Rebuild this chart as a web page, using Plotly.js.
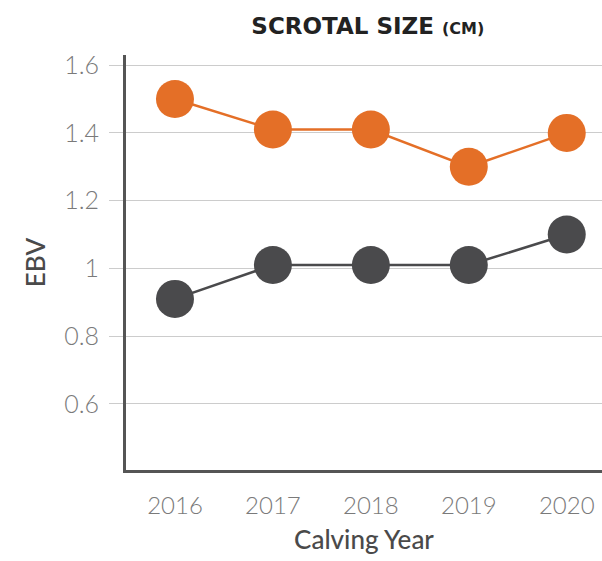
<!DOCTYPE html>
<html>
<head>
<meta charset="utf-8">
<script src="https://cdn.plot.ly/plotly-3.0.1.min.js"></script>
<style>html,body{margin:0;padding:0;background:#fff;}#chart{width:602px;height:561px;}</style>
</head>
<body>
<div id="chart"></div>
<script>
const years = [2016, 2017, 2018, 2019, 2020];
const seriesOrange = [1.50, 1.41, 1.41, 1.30, 1.40];
const seriesGray = [0.91, 1.01, 1.01, 1.01, 1.10];
const yTickVals = [0.6, 0.8, 1, 1.2, 1.4, 1.6];
const yTickText = ['0.6', '0.8', '1', '1.2', '1.4', '1.6'];

const traces = [
  {
    x: years, y: seriesGray, type: 'scatter', mode: 'lines+markers',
    line: {color: '#4a4a4c', width: 2.5},
    marker: {color: '#4a4a4c', size: 38, line: {width: 0}},
    cliponaxis: false, showlegend: false
  },
  {
    x: years, y: seriesOrange, type: 'scatter', mode: 'lines+markers',
    line: {color: '#e46f27', width: 2.5},
    marker: {color: '#e46f27', size: 38, line: {width: 0}},
    cliponaxis: false, showlegend: false
  }
];

const layout = {
  width: 602, height: 561,
  margin: {l: 126, r: 0, t: 55, b: 91, pad: 0},
  paper_bgcolor: '#fff', plot_bgcolor: '#fff',
  title: {
    text: 'SCROTAL SIZE <span style="font-size:16px">(CM)</span>',
    font: {family: 'DejaVu Sans', size: 23, color: '#222222', weight: 'bold'},
    x: 0.508, xanchor: 'center', xref: 'paper', y: 0.953, yanchor: 'middle', yref: 'container'
  },
  xaxis: {
    type: 'linear', range: [2015.5, 2020.36],
    tickvals: years, ticktext: years.map(String),
    showgrid: false, zeroline: false,
    showline: true, linecolor: '#555', linewidth: 3,
    ticks: '', ticklabelstandoff: 12,
    tickfont: {family: 'Lato', size: 24, color: '#7a7a7a', weight: 300},
    title: {text: 'Calving Year', font: {family: 'Lato', size: 26, color: '#4a4a4a', weight: 500}, standoff: 14}
  },
  yaxis: {
    range: [0.405, 1.63],
    tickvals: yTickVals, ticktext: yTickText,
    showgrid: true, gridcolor: '#cccccc', gridwidth: 1, zeroline: false,
    showline: true, linecolor: '#555', linewidth: 3,
    ticks: 'outside', ticklen: 14, tickcolor: '#cccccc', tickwidth: 1,
    ticklabelstandoff: 5,
    tickfont: {family: 'Lato', size: 25, color: '#7a7a7a', weight: 300},
    title: {text: 'EBV', font: {family: 'Lato', size: 26, color: '#4a4a4a', weight: 500}, standoff: 12}
  }
};

Plotly.newPlot('chart', traces, layout, {displayModeBar: false, staticPlot: true});
</script>
</body>
</html>
